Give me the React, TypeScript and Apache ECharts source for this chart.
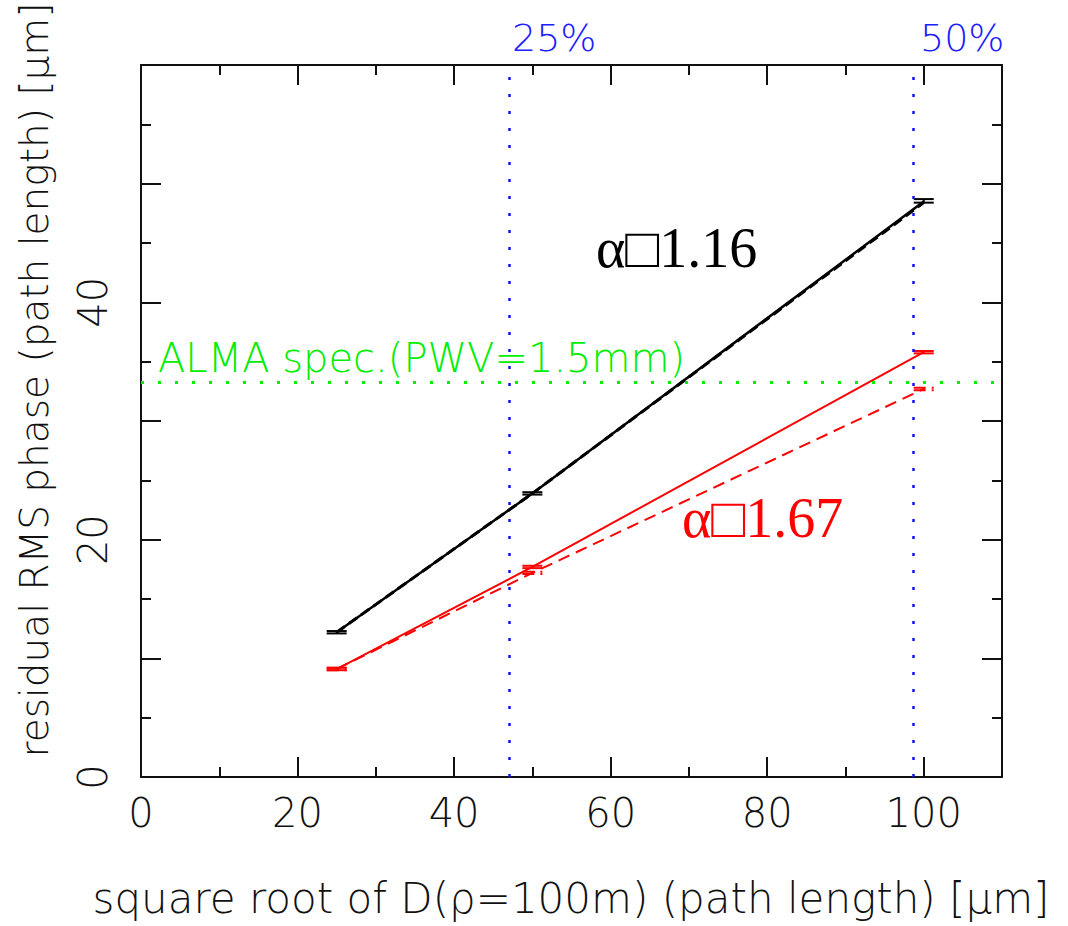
import React, { useEffect, useRef } from "react";
import * as echarts from "echarts";

// ---- data ----
const xPoints = [25, 50, 100];
const blackSolid = [12.2, 23.9, 48.5];
const blackDashed = [12.2, 23.9, 48.4];
const blackErrLow = [12.1, 23.8, 48.4];
const blackErrHigh = [12.3, 24.0, 48.7];
const redSolid = [9.1, 17.7, 35.8];
const redDashed = [9.1, 17.2, 32.7];
const redSolidErrLow = [9.0, 17.6, 35.7];
const redSolidErrHigh = [9.2, 17.8, 35.9];
const redDashedErrLow = [9.0, 17.1, 32.6];
const redDashedErrHigh = [9.2, 17.3, 32.8];

const almaSpec = 33.3;
const almaLabel = "ALMA spec.(PWV=1.5mm)";
const fractionLines = [47.0, 98.7];
const fractionLabels = ["25%", "50%"];

const xLabelTicks = [0, 20, 40, 60, 80, 100];
const yLabelTicks = [0, 20, 40];

const annBlack = "α□1.16";
const annRed = "α□1.67";

const xTitle = "square root of D(ρ=100m) (path length) [μm]";
const yTitle = "residual RMS phase (path length) [μm]";

const FONT = "DejaVu Sans";

function pairs(xs: number[], ys: number[]) {
  return xs.map((x, i) => [x, ys[i]]);
}
function errData(xs: number[], lo: number[], hi: number[]) {
  return xs.map((x, i) => [x, lo[i], hi[i]]);
}

function errSeries(name: string, data: number[][], color: string, dashed: boolean) {
  return {
    name,
    type: "custom",
    xAxisIndex: 0,
    yAxisIndex: 0,
    data,
    encode: { x: 0, y: [1, 2] },
    renderItem: (params: any, api: any) => {
      const x = api.value(0);
      const lo = api.value(1);
      const hi = api.value(2);
      const pLo = api.coord([x, lo]);
      const pHi = api.coord([x, hi]);
      const w = 10;
      const style: any = { stroke: color, lineWidth: 2 };
      if (dashed) style.lineDash = [12, 6];
      return {
        type: "group",
        children: [
          { type: "line", shape: { x1: pLo[0], y1: pLo[1], x2: pHi[0], y2: pHi[1] }, style },
          { type: "line", shape: { x1: pLo[0] - w, y1: pLo[1], x2: pLo[0] + w, y2: pLo[1] }, style },
          { type: "line", shape: { x1: pHi[0] - w, y1: pHi[1], x2: pHi[0] + w, y2: pHi[1] }, style },
        ],
      };
    },
  };
}

function xAxisDef(position: string, interval: number, len: number, labels: boolean, line: boolean) {
  return {
    type: "value",
    position,
    min: 0,
    max: 110,
    interval,
    splitLine: { show: false },
    axisLine: { show: line, onZero: false, lineStyle: { color: "#111", width: 2 } },
    axisTick: { show: true, inside: true, length: len, lineStyle: { color: "#111", width: 2 } },
    axisLabel: labels
      ? {
          show: true,
          margin: 16,
          color: "#111",
          fontFamily: FONT,
          fontWeight: 200,
          fontSize: 40,
          formatter: (v: number) => (xLabelTicks.indexOf(v) >= 0 ? String(v) : ""),
        }
      : { show: false },
  };
}

function yAxisDef(position: string, interval: number, len: number, labels: boolean, line: boolean) {
  return {
    type: "value",
    position,
    min: 0,
    max: 60,
    interval,
    splitLine: { show: false },
    axisLine: { show: line, onZero: false, lineStyle: { color: "#111", width: 2 } },
    axisTick: { show: true, inside: true, length: len, lineStyle: { color: "#111", width: 2 } },
    axisLabel: labels
      ? {
          show: true,
          margin: 28,
          rotate: 90,
          color: "#111",
          fontFamily: FONT,
          fontWeight: 200,
          fontSize: 40,
          formatter: (v: number) => (yLabelTicks.indexOf(v) >= 0 ? String(v) : ""),
        }
      : { show: false },
  };
}

export default function App() {
  const ref = useRef<HTMLDivElement>(null);
  useEffect(() => {
    if (!ref.current) return;
    const chart = echarts.init(ref.current, null, { renderer: "svg" });
    const option: any = {
      animation: false,
      backgroundColor: "#ffffff",
      grid: { left: 141, top: 65, width: 861, height: 712, containLabel: false },
      xAxis: [
        xAxisDef("bottom", 20, 20, true, true),
        xAxisDef("bottom", 10, 10, false, false),
        xAxisDef("top", 20, 20, false, true),
        xAxisDef("top", 10, 10, false, false),
      ],
      yAxis: [
        yAxisDef("left", 10, 20, true, true),
        yAxisDef("left", 5, 10, false, false),
        yAxisDef("right", 10, 20, false, true),
        yAxisDef("right", 5, 10, false, false),
      ],
      series: [
        {
          name: "reference",
          type: "line",
          data: [],
          silent: true,
          markLine: {
            silent: true,
            symbol: ["none", "none"],
            label: { show: false },
            data: [
              { yAxis: almaSpec, lineStyle: { color: "#00ee00", width: 3, type: [3, 14] } },
              ...fractionLines.map((v) => ({
                xAxis: v,
                lineStyle: { color: "#1010ff", width: 2.5, type: [3, 14] },
              })),
            ],
          },
        },
        {
          name: "black solid",
          type: "line",
          data: pairs(xPoints, blackSolid),
          symbol: "none",
          lineStyle: { color: "#000", width: 2.5 },
        },
        {
          name: "black dashed",
          type: "line",
          data: pairs(xPoints, blackDashed),
          symbol: "none",
          lineStyle: { color: "#000", width: 3, type: [10, 5] },
        },
        {
          name: "red solid",
          type: "line",
          data: pairs(xPoints, redSolid),
          symbol: "none",
          lineStyle: { color: "#ff0000", width: 2 },
        },
        {
          name: "red dashed",
          type: "line",
          data: pairs(xPoints, redDashed),
          symbol: "none",
          lineStyle: { color: "#ff0000", width: 2, type: [12, 7] },
        },
        errSeries("black err", errData(xPoints, blackErrLow, blackErrHigh), "#000", false),
        errSeries("red solid err", errData(xPoints, redSolidErrLow, redSolidErrHigh), "#ff0000", false),
        errSeries("red dashed err", errData(xPoints, redDashedErrLow, redDashedErrHigh), "#ff0000", true),
      ],
      graphic: [
        {
          type: "text",
          x: 571,
          y: 898,
          style: {
            text: xTitle,
            fontFamily: FONT,
            fontWeight: 200,
            fontSize: 42,
            fill: "#111",
            align: "center",
            verticalAlign: "middle",
          },
        },
        {
          type: "text",
          x: 34,
          y: 380,
          rotation: Math.PI / 2,
          style: {
            text: yTitle,
            fontFamily: FONT,
            fontWeight: 200,
            fontSize: 39,
            fill: "#111",
            align: "center",
            verticalAlign: "middle",
          },
        },
        {
          type: "text",
          x: 158,
          y: 358,
          style: {
            text: almaLabel,
            fontFamily: FONT,
            fontWeight: 200,
            fontSize: 40,
            fill: "#00ee00",
            align: "left",
            verticalAlign: "middle",
          },
        },
        ...fractionLabels.map((t, i) => ({
          type: "text",
          x: [512, 920][i],
          y: 38,
          style: {
            text: t,
            fontFamily: FONT,
            fontWeight: 200,
            fontSize: 38,
            fill: "#2020ff",
            align: "left",
            verticalAlign: "middle",
          },
        })),
        {
          type: "text",
          x: 596,
          y: 248,
          style: {
            text: annBlack,
            fontFamily: "Liberation Serif",
            fontSize: 56,
            fill: "#000",
            align: "left",
            verticalAlign: "middle",
          },
        },
        {
          type: "text",
          x: 682,
          y: 518,
          style: {
            text: annRed,
            fontFamily: "Liberation Serif",
            fontSize: 56,
            fill: "#ff0000",
            align: "left",
            verticalAlign: "middle",
          },
        },
      ],
    };
    chart.setOption(option);
    return () => chart.dispose();
  }, []);
  return (
    <div
      ref={ref}
      style={{ position: "fixed", left: 0, top: 0, width: 1068, height: 926, background: "#fff" }}
    />
  );
}
